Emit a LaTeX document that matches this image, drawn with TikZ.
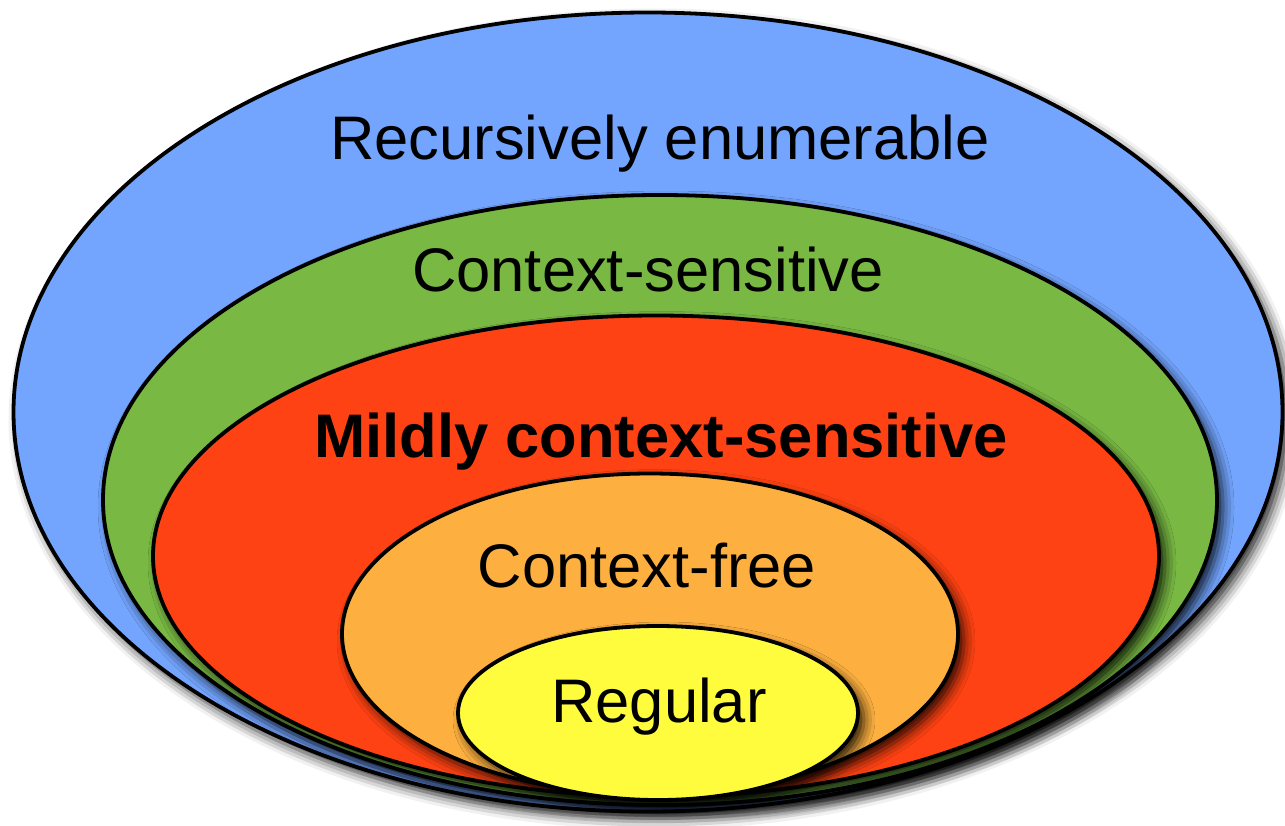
\documentclass[tikz,border=0pt]{standalone}
\usepackage{fontspec}
\setmainfont{Liberation Sans}
\usetikzlibrary{shapes.geometric,shadows.blur}
\definecolor{reblue}{RGB}{115,165,254}
\definecolor{csgreen}{RGB}{120,184,67}
\definecolor{mcsred}{RGB}{255,66,19}
\definecolor{cforange}{RGB}{253,176,63}
\definecolor{regyellow}{RGB}{255,252,62}
\tikzset{
  langset/.style={ellipse, draw=black, line width=3.8pt, inner sep=0pt,
    blur shadow={shadow xshift=6pt, shadow yshift=-7pt,
      shadow blur radius=11pt, shadow opacity=85}},
  langname/.style={anchor=base, font=\fontsize{61.5}{70}\selectfont}
}

\begin{document}
\begin{tikzpicture}[x=1pt,y=-1pt]
\useasboundingbox (0,0) rectangle (1285,825);
% nested language classes
\node[langset, fill=reblue, minimum width=1269pt, minimum height=799pt] (re) at (648,412) {};
\node[langset, fill=csgreen, minimum width=1114pt, minimum height=610pt] (cs) at (660,500) {};
\node[langset, fill=mcsred, minimum width=1006pt, minimum height=481pt] (mcs) at (656,556) {};
\node[langset, fill=cforange, minimum width=616pt, minimum height=321pt] (cf) at (650,634) {};
\node[langset, fill=regyellow, minimum width=400pt, minimum height=174pt] (reg) at (658,713) {};
% names
\node[langname] (retext) at (660,159) {Recursively enumerable};
\node[langname] (cstext) at (648,291) {Context-sensitive};
\node[langname, font=\fontsize{61.5}{70}\selectfont\bfseries] (mcstext) at (661,457) {Mildly context-sensitive};
\node[langname] (cftext) at (647,587) {Context-free};
\node[langname] (regtext) at (659,722) {Regular};
\end{tikzpicture}
\end{document}
